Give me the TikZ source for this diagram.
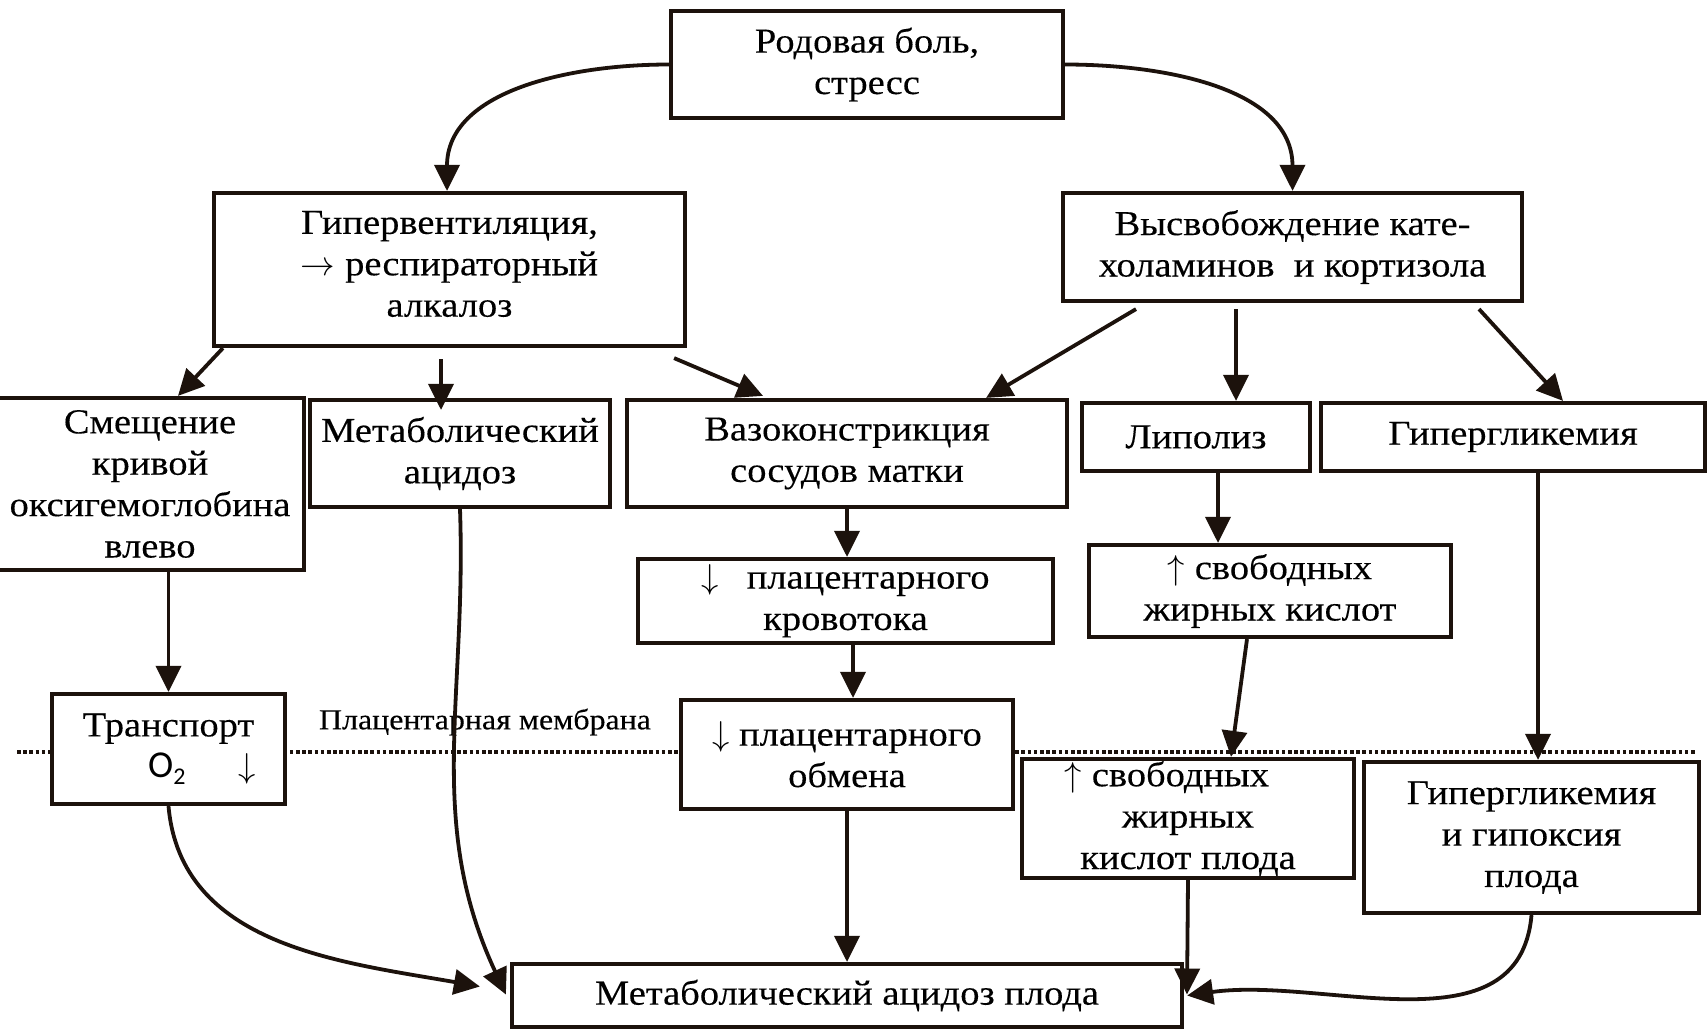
\documentclass[tikz,border=0pt]{standalone}
\usepackage{fontspec}
\setmainfont{Liberation Serif}[FakeStretch=1.1,FakeBold=0.25]
\newfontfamily\osans{Carlito}
\usetikzlibrary{arrows.meta,calc}
\definecolor{ink}{RGB}{28,18,12}
\begin{document}
\begin{tikzpicture}[x=0.5pt,y=-0.5pt,
  box/.style={draw=ink, line width=2.1pt, fill=white, align=center, inner sep=0pt,
    font=\fontsize{17.5}{20.7}\selectfont, text=black},
  arr/.style={draw=ink, line width=1.9pt, -{Triangle[length=13pt,width=12.5pt]}},
  memb/.style={draw=ink, line width=2pt, dash pattern=on 1.8pt off 1.3pt},
  lbl/.style={font=\fontsize{14.5}{17}\selectfont, text=black, inner sep=0pt}]
\clip (0,0) rectangle (1708,1029);
\fill[white] (0,0) rectangle (1708,1029);
% placental membrane
\coordinate (mL) at (17,752);
\coordinate (mR) at (1695,752);
\draw[memb] (mL) -- (mR);
\node[lbl] (membl) at (485,722) {Плацентарная мембрана};
% boxes
\node[box, minimum width=196pt, minimum height=53.5pt] (top) at (867,64.5) {Родовая боль,\\стресс};
\node[box, minimum width=235.5pt, minimum height=76.5pt] (hyper) at (449.5,269.5) {Гипервентиляция,\\$\rightarrow$ респираторный\hspace*{1.7em}\\алкалоз\\[-15pt]\mbox{}};
\node[box, minimum width=229.5pt, minimum height=54pt] (cat) at (1292.5,247) {Высвобождение кате-\\холаминов\ \ и кортизола};
\node[box, minimum width=154pt, minimum height=86pt] (shift) at (150,484) {Смещение\\кривой\\оксигемоглобина\\влево};
\node[box, minimum width=150pt, minimum height=53.5pt] (macid) at (460,453.5) {Метаболический\\ацидоз};
\node[box, minimum width=220pt, minimum height=53.5pt] (vaso) at (847,453.5) {Вазоконстрикция\\сосудов матки};
\node[box, minimum width=114pt, minimum height=34pt] (lipo) at (1196,437) {Липолиз};
\node[box, minimum width=192pt, minimum height=34pt] (hyperg) at (1513,437) {Гипергликемия};
\node[box, minimum width=207.5pt, minimum height=42pt] (flow) at (845.5,601) {$\downarrow$\hspace{0.8em}плацентарного\\кровотока};
\node[box, minimum width=181pt, minimum height=46pt] (ffa) at (1270,591) {$\uparrow$ свободных\\жирных кислот};
\node[box, minimum width=116.5pt, minimum height=55pt] (trans) at (168.5,749) {Транспорт\\\hspace*{1.9em}{\osans\fontsize{19}{20}\selectfont O\raisebox{-0.35ex}{\fontsize{12}{12}\selectfont 2}}\hspace{1.5em}$\downarrow$};
\node[box, minimum width=166pt, minimum height=54.5pt] (exch) at (847,754.5) {$\downarrow$ плацентарного\\обмена};
\node[box, minimum width=166pt, minimum height=59.5pt] (ffaf) at (1188,818.5) {$\uparrow$ свободных\hspace*{1.2em}\\жирных\\кислот плода};
\node[box, minimum width=167.5pt, minimum height=75.5pt] (hypox) at (1531.5,837.5) {Гипергликемия\\и гипоксия\\плода};
\node[box, minimum width=335pt, minimum height=31.5pt] (final) at (847,995.5) {Метаболический ацидоз плода};
% connectors
\draw[arr] (top.west) to[out=180,in=90] ($(hyper.north)+(-2.5,0)$);
\draw[arr] (top.east) to[out=0,in=90] (cat.north);
\draw[arr] ($(hyper.south west)+(11,0)$) -- ($(shift.north)+(28,0)$);
\draw[arr] ($(hyper.south)+(-8.5,11)$) -- ($(macid.north)+(-19,12)$);
\draw[arr] ($(hyper.south east)+(-13,10)$) -- ($(vaso.north)+(-84,-2)$);
\draw[arr] ($(cat.south)+(-156.5,6)$) -- ($(vaso.north east)+(-83,0)$);
\draw[arr] ($(cat.south)+(-56.5,6)$) -- ($(lipo.north)+(40,0)$);
\draw[arr] ($(cat.south)+(186.5,6)$) -- ($(hyperg.north)+(50,0)$);
\draw[arr] ($(lipo.south)+(22,0)$) -- ($(ffa.north)+(-52,0)$);
\draw[arr] ($(hyperg.south)+(25,0)$) -- ($(hypox.north)+(6.5,0)$);
\draw[arr] (vaso.south) -- (vaso.south |- flow.north);
\draw[arr] ($(flow.south)+(7.5,0)$) -- ($(exch.north)+(6,0)$);
\draw[arr] ($(ffa.south)+(-23,0)$) -- ($(ffaf.north)+(43,0)$);
\draw[arr] (trans.north |- shift.south) -- (trans.north);
\draw[arr] (trans.south) to[out=-85,in=170] ($(final.west)+(-30,-9)$);
\draw[arr] (macid.south) to[out=-88,in=115] ($(final.west)+(-4,-1)$);
\draw[arr] (exch.south) -- (exch.south |- final.north);
\draw[arr] (ffaf.south) -- ($(ffaf.south |- final.east)+(-1,-1)$);
\draw[arr] (hypox.south) to[out=-95,in=8] ($(final.east)+(3,0)$);
\end{tikzpicture}
\end{document}
